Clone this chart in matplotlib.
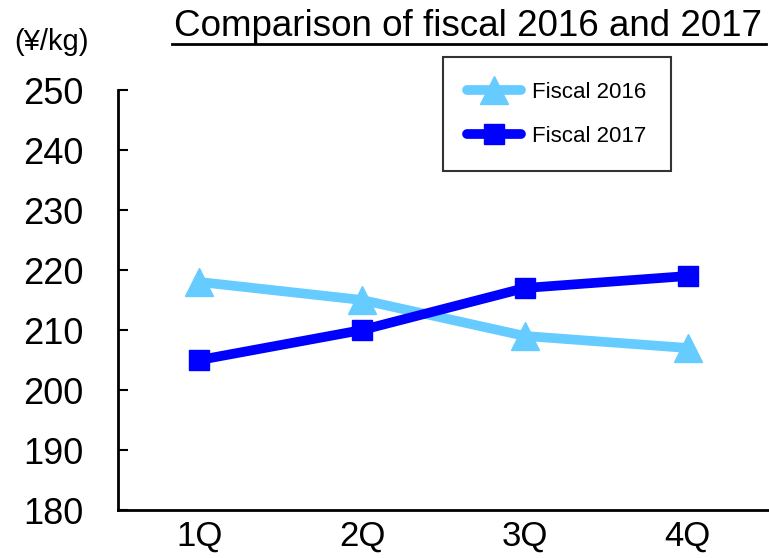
import matplotlib.pyplot as plt

quarters = ["1Q", "2Q", "3Q", "4Q"]
fiscal_2016 = [218, 215, 209, 207]
fiscal_2017 = [205, 210, 217, 219]
y_ticks = [180, 190, 200, 210, 220, 230, 240, 250]

plt.rcParams["font.family"] = ["Liberation Sans", "DejaVu Sans"]

fig = plt.figure(figsize=(7.69, 5.58), dpi=100)
ax = fig.add_axes([118 / 769, 48 / 558, 651 / 769, 420 / 558])

x = range(len(quarters))
ax.plot(x, fiscal_2016, color="#66CCFF", lw=7, marker="^", ms=20,
        solid_capstyle="round", label="Fiscal 2016")
ax.plot(x, fiscal_2017, color="#0000FF", lw=7, marker="s", ms=14,
        solid_capstyle="round", label="Fiscal 2017")

ax.set_xlim(-0.5, 3.5)
ax.set_ylim(180, 250)
ax.set_yticks(y_ticks)
ax.set_xticks(list(x))
ax.set_xticklabels(quarters, fontsize=25)
ax.set_yticklabels([str(v) for v in y_ticks], fontsize=26)
ax.tick_params(axis="y", direction="in", length=7, width=1.5, pad=25)
ax.tick_params(axis="x", length=0, pad=7)
for side in ["top", "right"]:
    ax.spines[side].set_visible(False)
for side in ["left", "bottom"]:
    ax.spines[side].set_linewidth(2)

leg = ax.legend(loc="upper left", bbox_to_anchor=(325 / 651, 1.078), fontsize=16,
                frameon=True, fancybox=False, edgecolor="black",
                borderaxespad=0, handlelength=2.4, borderpad=1.1,
                labelspacing=1.05, handletextpad=0.5)
leg.get_frame().set_linewidth(1.5)

fig.text(468 / 769, 1 - 26 / 558, "Comparison of fiscal 2016 and 2017",
         ha="center", va="center", fontsize=26.5)
fig.add_artist(plt.Line2D([172 / 769, 766 / 769], [1 - 44 / 558, 1 - 44 / 558],
                          color="black", lw=2))
fig.text(52 / 769, 1 - 42 / 558, "(¥/kg)", ha="center", va="center",
         fontsize=21)

fig.savefig("out.png", dpi=100)
